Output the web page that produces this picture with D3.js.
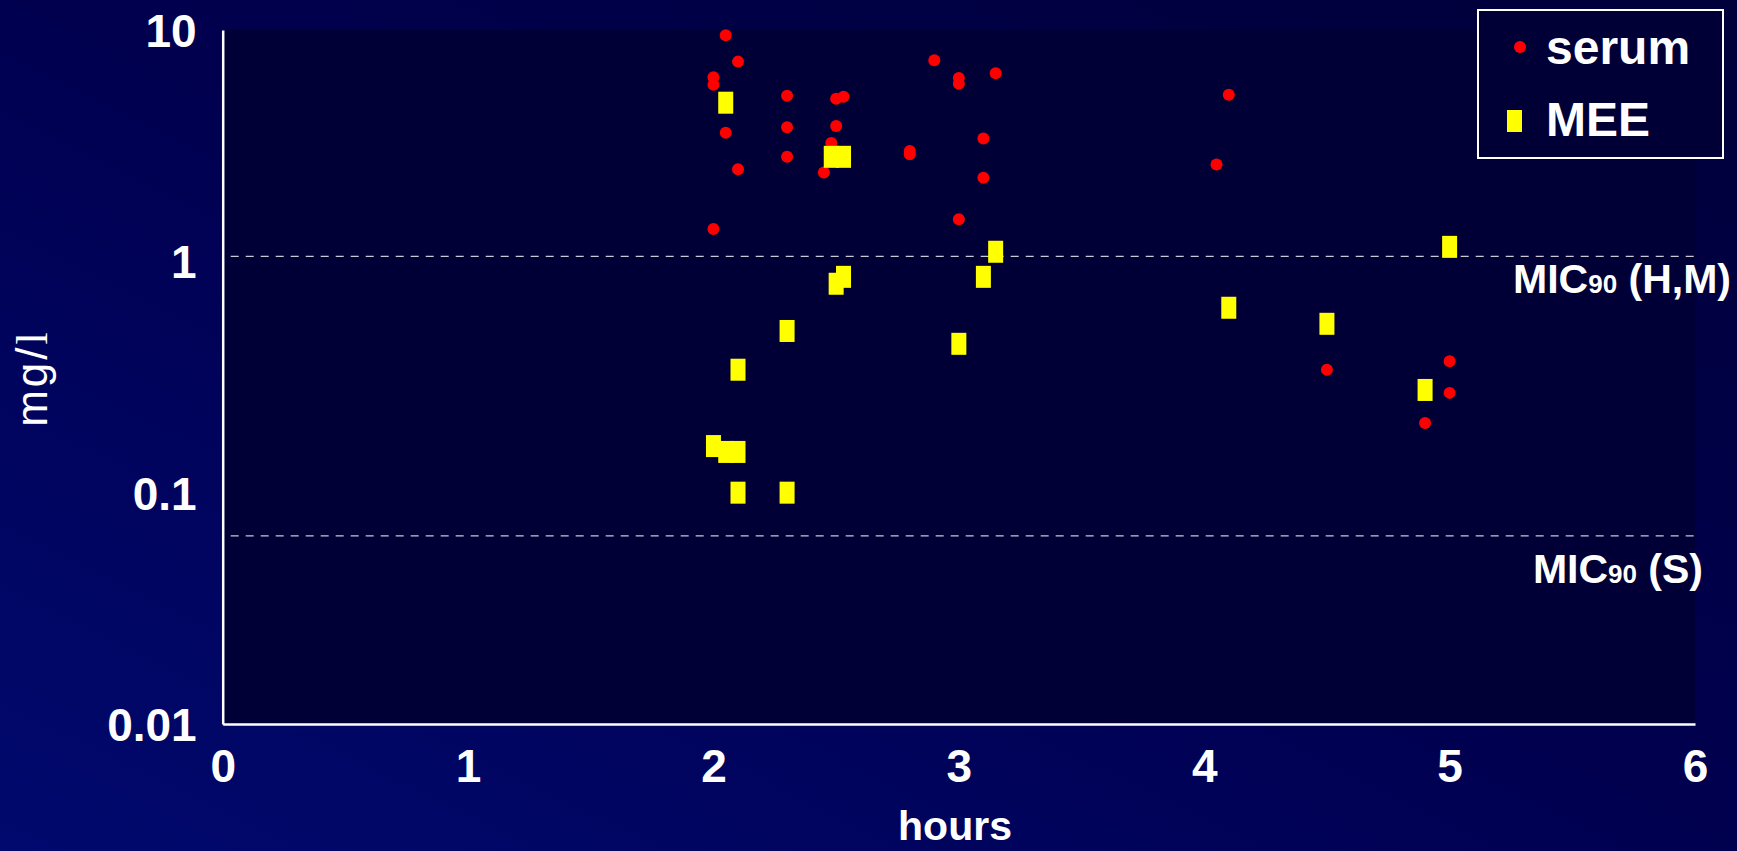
<!DOCTYPE html>
<html>
<head>
<meta charset="utf-8">
<script src="https://cdn.jsdelivr.net/npm/d3@7"></script>
<style>
  html, body { margin: 0; padding: 0; background: #000040; }
  svg { display: block; }
</style>
</head>
<body>
<svg id="chart" width="1737" height="851"></svg>
<script>
// Serum concentrations (hours, mg/l)
const serumHours = [2.05, 2.1, 2.0, 2.0, 2.3, 2.5, 2.53, 2.05, 2.3, 2.5, 2.48, 2.3, 2.1, 2.45, 2.8, 2.8,
                    2.9, 3.0, 3.0, 3.15, 3.1, 3.1, 3.0, 2.0, 4.1, 4.05, 4.5, 5.0, 5.0, 4.9];
const serumConc  = [9.5, 7.3, 6.25, 5.8, 5.2, 5.05, 5.15, 3.6, 3.8, 3.85, 3.25, 2.83, 2.5, 2.42, 3.0, 2.9,
                    7.4, 6.2, 5.85, 6.5, 3.4, 2.3, 1.52, 1.38, 5.25, 2.62, 0.34, 0.37, 0.27, 0.2];

// Middle-ear effusion (MEE) concentrations (hours, mg/l)
const meeHours = [2.05, 2.48, 2.53, 2.5, 2.53, 3.1, 3.15, 2.3, 3.0, 2.1, 2.0, 2.05, 2.1, 2.1, 2.3, 4.1, 4.5, 5.0, 4.9];
const meeConc  = [4.85, 2.83, 2.83, 0.8, 0.857, 0.857, 1.1, 0.5, 0.44, 0.34, 0.159, 0.15, 0.15, 0.1, 0.1, 0.63, 0.537, 1.155, 0.278];

// Axis ticks
const xTicks = [0, 1, 2, 3, 4, 5, 6];
const yTicks = [0.01, 0.1, 1, 10];
const yTickLabels = ["0.01", "0.1", "1", "10"];

// MIC90 reference levels
const micLabels = ["(H,M)", "(S)"];
const micValues = [1.05, 0.065];

const FONT = "'Liberation Sans', Arial, sans-serif";
const svg = d3.select("#chart");
const W = 1737, H = 851;

const x = d3.scaleLinear().domain([0, 6]).range([222.7, 1695]);
const y = d3.scaleLog().domain([0.01, 10]).range([724, 30]);

// Background gradient
const defs = svg.append("defs");
const bg = defs.append("linearGradient").attr("id", "bg")
  .attr("x1", 0).attr("y1", 1).attr("x2", 1).attr("y2", 0);
bg.append("stop").attr("offset", 0).attr("stop-color", "#00096e");
bg.append("stop").attr("offset", 0.5).attr("stop-color", "#000050");
bg.append("stop").attr("offset", 1).attr("stop-color", "#00003a");
svg.append("rect").attr("width", W).attr("height", H).attr("fill", "url(#bg)");

// Plot area
svg.append("rect")
  .attr("x", x(0)).attr("y", y(10))
  .attr("width", x(6) - x(0)).attr("height", y(0.01) - y(10))
  .attr("fill", "#000037");

// MIC90 dashed reference lines
svg.append("g").selectAll("line").data(micValues).join("line")
  .attr("x1", x(0) + 8).attr("x2", x(6) + 2)
  .attr("y1", d => y(d)).attr("y2", d => y(d))
  .attr("stroke", "#c8c8d8").attr("stroke-width", 1.3)
  .attr("stroke-dasharray", "8,7");

const micOffsets = [37, 47];
const micRight = [1731, 1703];
const micText = svg.append("g").selectAll("text").data(micValues).join("text")
  .attr("x", (d, i) => micRight[i])
  .attr("y", (d, i) => y(d) + micOffsets[i])
  .attr("text-anchor", "end")
  .attr("fill", "#ffffff")
  .attr("font-family", FONT).attr("font-weight", "bold").attr("font-size", 41);
micText.append("tspan").text("MIC");
micText.append("tspan").attr("font-size", 26).text("90");
micText.append("tspan").text((d, i) => " " + micLabels[i]);

// Axes
const yAxis = d3.axisLeft(y).tickValues(yTicks).tickSize(0).tickPadding(26)
  .tickFormat((d, i) => yTickLabels[i]);
const gy = svg.append("g").attr("transform", `translate(${x(0)},0)`).call(yAxis);
gy.select(".domain").attr("stroke", "#ffffff").attr("stroke-width", 2.5);
gy.selectAll("text").attr("fill", "#ffffff").attr("font-family", FONT)
  .attr("font-weight", "bold").attr("font-size", 46).attr("dy", "0.36em");

const xAxis = d3.axisBottom(x).tickValues(xTicks).tickSize(0).tickPadding(25)
  .tickFormat(d3.format("d"));
const gx = svg.append("g").attr("transform", `translate(0,${y(0.01)})`).call(xAxis);
gx.select(".domain").attr("stroke", "#ffffff").attr("stroke-width", 2.5);
gx.selectAll("text").attr("fill", "#ffffff").attr("font-family", FONT)
  .attr("font-weight", "bold").attr("font-size", 46);

// Axis titles
svg.append("text")
  .attr("x", 955).attr("y", 840)
  .attr("text-anchor", "middle")
  .attr("fill", "#ffffff").attr("font-family", FONT)
  .attr("font-weight", "bold").attr("font-size", 41)
  .text("hours");

const yTitle = svg.append("text")
  .attr("transform", "translate(47,378) rotate(-90)")
  .attr("text-anchor", "middle")
  .attr("letter-spacing", 3)
  .attr("fill", "#ffffff").attr("font-family", FONT).attr("font-size", 44);
yTitle.append("tspan").text("mg/");
yTitle.append("tspan").attr("font-family", "'Liberation Serif', 'DejaVu Serif', serif").text("l");

// Serum points
const serum = serumHours.map((h, i) => ({ h, c: serumConc[i] }));
svg.append("g").selectAll("circle").data(serum).join("circle")
  .attr("cx", d => x(d.h)).attr("cy", d => y(d.c)).attr("r", 6)
  .attr("fill", "#ff0000");

// MEE points
const mee = meeHours.map((h, i) => ({ h, c: meeConc[i] }));
const mw = 15, mh = 22;
svg.append("g").selectAll("rect").data(mee).join("rect")
  .attr("x", d => x(d.h) - mw / 2).attr("y", d => y(d.c) - mh / 2)
  .attr("width", mw).attr("height", mh)
  .attr("fill", "#ffff00");

// Legend
const lg = svg.append("g");
lg.append("rect").attr("x", 1478).attr("y", 10).attr("width", 245).attr("height", 148)
  .attr("fill", "#000037").attr("stroke", "#ffffff").attr("stroke-width", 2);
lg.append("circle").attr("cx", 1520).attr("cy", 47).attr("r", 6).attr("fill", "#ff0000");
lg.append("rect").attr("x", 1507).attr("y", 110).attr("width", mw).attr("height", mh).attr("fill", "#ffff00");
lg.append("text").attr("x", 1546).attr("y", 64)
  .attr("fill", "#ffffff").attr("font-family", FONT).attr("font-weight", "bold").attr("font-size", 48)
  .text("serum");
lg.append("text").attr("x", 1546).attr("y", 136)
  .attr("fill", "#ffffff").attr("font-family", FONT).attr("font-weight", "bold").attr("font-size", 48)
  .text("MEE");
</script>
</body>
</html>
